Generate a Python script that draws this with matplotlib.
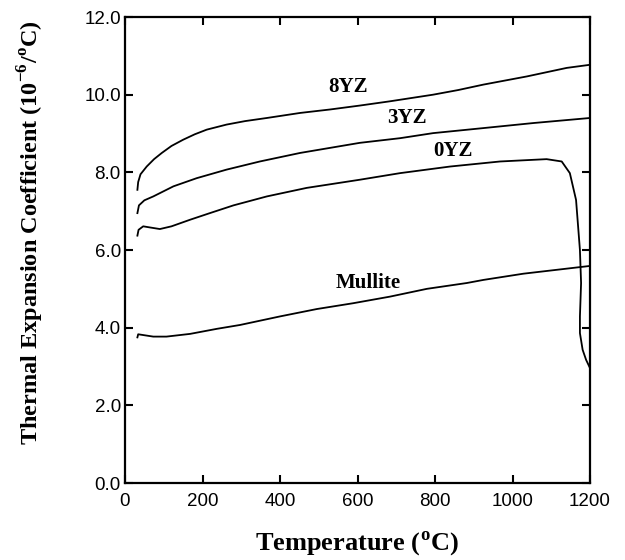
import matplotlib
matplotlib.use("Agg")
import matplotlib.pyplot as plt
from matplotlib.ticker import FormatStrFormatter

plt.rcParams['mathtext.fontset'] = 'custom'
plt.rcParams['mathtext.rm'] = 'Liberation Serif:bold'
plt.rcParams['mathtext.bf'] = 'Liberation Serif:bold'

# 8YZ
t_8yz = [32, 34, 40, 56, 75, 95, 120, 150, 180, 211, 262, 310, 366, 452, 530, 606, 684, 795, 860, 925, 1037, 1140, 1200]
a_8yz = [7.55, 7.75, 7.95, 8.15, 8.34, 8.5, 8.68, 8.84, 8.98, 9.1, 9.23, 9.32, 9.4, 9.53, 9.62, 9.72, 9.83, 10.0, 10.12, 10.26, 10.47, 10.69, 10.77]
# 3YZ
t_3yz = [32, 36, 50, 73, 125, 185, 262, 348, 452, 606, 710, 795, 925, 1054, 1200]
a_3yz = [6.95, 7.15, 7.28, 7.38, 7.64, 7.85, 8.07, 8.28, 8.5, 8.76, 8.88, 9.01, 9.14, 9.27, 9.4]
# 0YZ (drops sharply near 1150-1200)
t_0yz = [32, 35, 47, 65, 90, 120, 168, 219, 280, 366, 469, 606, 710, 839, 968, 1088,
         1127, 1148, 1164, 1174, 1177, 1174, 1174, 1181, 1190, 1200]
a_0yz = [6.37, 6.52, 6.61, 6.58, 6.54, 6.61, 6.78, 6.95, 7.15, 7.38, 7.6, 7.81, 7.98, 8.15, 8.28, 8.34,
         8.28, 7.98, 7.29, 6.0, 5.15, 4.29, 3.86, 3.43, 3.17, 2.96]
# Mullite
t_mul = [32, 34, 47, 73, 107, 168, 237, 297, 400, 495, 589, 684, 779, 882, 925, 1028, 1200]
a_mul = [3.75, 3.83, 3.81, 3.77, 3.77, 3.84, 3.97, 4.07, 4.29, 4.48, 4.63, 4.8, 5.0, 5.15, 5.23, 5.39, 5.59]

labels = ["8YZ", "3YZ", "0YZ", "Mullite"]
label_t = [575, 727, 847, 627]
label_a = [10.2, 9.4, 8.54, 5.16]

x_ticks = [0, 200, 400, 600, 800, 1000, 1200]
y_ticks = [0.0, 2.0, 4.0, 6.0, 8.0, 10.0, 12.0]

fig = plt.figure(figsize=(6.25, 5.6), dpi=100)
ax = fig.add_axes([0.2, 0.1375, 0.744, 0.8321])

for t, a in [(t_8yz, a_8yz), (t_3yz, a_3yz), (t_0yz, a_0yz), (t_mul, a_mul)]:
    ax.plot(t, a, color='black', lw=1.3)

for lab, lt, la in zip(labels, label_t, label_a):
    ax.text(lt, la, lab, ha='center', va='center', fontsize=15,
            family='Liberation Serif', fontweight='bold')

ax.set_xlim(0, 1200)
ax.set_ylim(0, 12)
ax.set_xticks(x_ticks)
ax.set_yticks(y_ticks)
ax.yaxis.set_major_formatter(FormatStrFormatter('%.1f'))
ax.tick_params(direction='in', length=6, width=1.5, top=True, right=True,
               labelsize=13.5)
ax.tick_params(axis='x', pad=7)
ax.tick_params(axis='y', pad=3)
for lab in ax.get_xticklabels() + ax.get_yticklabels():
    lab.set_family('Liberation Sans')
for s in ax.spines.values():
    s.set_linewidth(1.6)

ax.set_xlabel(r'Temperature ($^{\mathrm{o}}$C)', fontsize=19,
              family='Liberation Serif', fontweight='bold')
ax.set_ylabel(r'Thermal Expansion Coefficient (10$^{\mathrm{-6}}$/$^{\mathrm{o}}$C)', fontsize=17.5,
              family='Liberation Serif', fontweight='bold')
ax.xaxis.set_label_coords(0.499, -0.099)
ax.yaxis.set_label_coords(-0.17, 0.537)

fig.savefig('out.png', dpi=100)
